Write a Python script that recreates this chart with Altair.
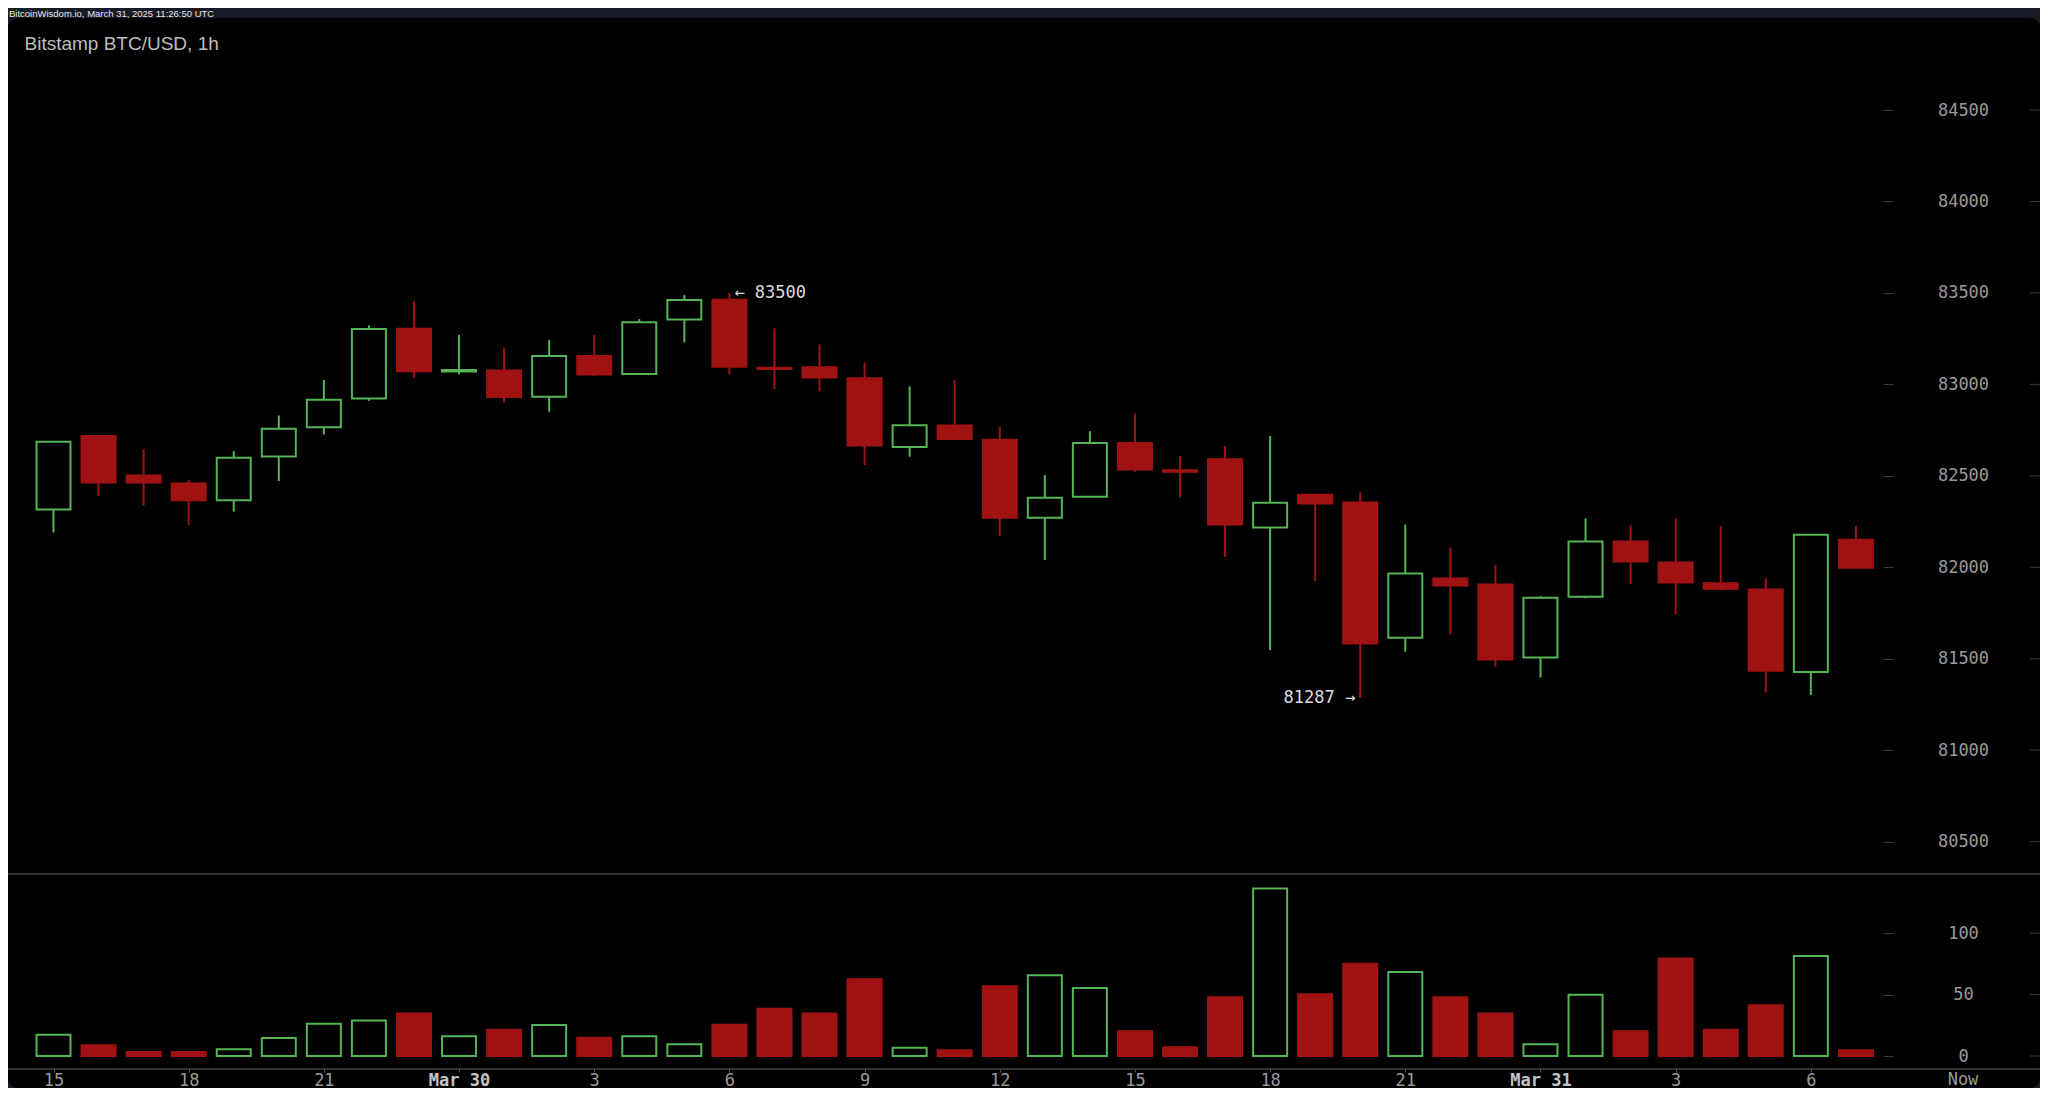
import altair as alt
import pandas as pd

# ---------------- data ----------------
start = pd.Timestamp("2025-03-29T15:00:00Z")
times = [(start + pd.Timedelta(hours=h)).strftime("%Y-%m-%dT%H:%M:%SZ") for h in range(41)]

opens = [82316, 82717, 82502, 82458, 82367, 82606, 82765, 82923, 83304, 83070,
         83076, 82932, 83155, 83056, 83355, 83463, 83091, 83093, 83033, 82657,
         82775, 82697, 82271, 82385, 82679, 82530, 82591, 82218, 82396, 82354,
         81614, 81939, 81906, 81507, 81839, 82141, 82026, 81912, 81879, 81427,
         82150]
highs = [82686, 82723, 82646, 82477, 82635, 82830, 83024, 83322, 83455, 83270,
         83200, 83242, 83270, 83357, 83488, 83500, 83306, 83218, 83120, 82989,
         83023, 82768, 82504, 82744, 82841, 82608, 82662, 82717, 82400, 82409,
         82234, 82108, 82012, 81842, 82267, 82230, 82267, 82225, 81939, 82178,
         82225]
lows = [82189, 82391, 82338, 82231, 82304, 82471, 82726, 82910, 83036, 83055,
        82901, 82850, 83045, 83056, 83229, 83055, 82974, 82963, 82559, 82604,
        82701, 82172, 82039, 82385, 82522, 82384, 82057, 81547, 81926, 81287,
        81538, 81634, 81456, 81397, 81830, 81908, 81742, 81875, 81314, 81301,
        81997]
closes = [82686, 82464, 82464, 82367, 82599, 82757, 82916, 83302, 83071, 83078,
          82931, 83155, 83054, 83339, 83461, 83096, 83084, 83038, 82666, 82776,
          82701, 82271, 82380, 82679, 82535, 82522, 82234, 82353, 82349, 81583,
          81966, 81900, 81496, 81833, 82141, 82032, 81917, 81882, 81434, 82178,
          81997]
volumes = [17.4, 8.7, 3.3, 3.3, 5.4, 14.7, 26.3, 29.0, 34.7, 16.0,
           21.4, 25.2, 14.9, 16.0, 9.5, 25.5, 38.5, 34.7, 62.4, 6.8,
           4.6, 56.7, 65.7, 55.4, 20.1, 7.1, 47.8, 136.5, 50.2, 75.2,
           68.4, 47.8, 34.7, 9.5, 49.9, 20.1, 79.3, 21.4, 41.3, 81.4,
           4.6]

price_ticks = [80500, 81000, 81500, 82000, 82500, 83000, 83500, 84000, 84500]
volume_ticks = [0, 50, 100]
x_tick_times = ["2025-03-29T15:00:00Z", "2025-03-29T18:00:00Z", "2025-03-29T21:00:00Z",
                "2025-03-30T00:00:00Z", "2025-03-30T03:00:00Z", "2025-03-30T06:00:00Z",
                "2025-03-30T09:00:00Z", "2025-03-30T12:00:00Z", "2025-03-30T15:00:00Z",
                "2025-03-30T18:00:00Z", "2025-03-30T21:00:00Z", "2025-03-31T00:00:00Z",
                "2025-03-31T03:00:00Z", "2025-03-31T06:00:00Z"]
now_label = "Now"

ann_labels = ["\u2190 83500", "81287 \u2192"]
ann_times = [times[15], times[29]]
ann_prices = [83500, 81287]
ann_side = ["left", "right"]

header_text = "BitcoinWisdom.io, March 31, 2025 11:26:50 UTC"
title_text = "Bitstamp BTC/USD, 1h"

# ---------------- styling ----------------
NAVY = "#171b26"
RED = "#a11313"
GREEN = "#55b455"
LABEL = "#9a9a9a"
LINE = "#3a3a3a"
W, H = 2032, 1070

df = pd.DataFrame({"t": times, "open": opens, "high": highs, "low": lows,
                   "close": closes, "vol": volumes})
df["dir"] = ["up" if c >= o else "down" for o, c in zip(opens, closes)]

ann = pd.DataFrame({"t": ann_times, "p": ann_prices, "label": ann_labels, "side": ann_side})
pt = pd.DataFrame({"p": price_ticks})
vt = pd.DataFrame({"v": volume_ticks})
one = pd.DataFrame({"a": [0]})

IS_DAY = "utchours(datum.value) == 0"
x_scale = alt.Scale(type="utc",
                    domain=[alt.DateTime(year=2025, month=3, date=29, hours=15, utc=True),
                            alt.DateTime(year=2025, month=3, date=31, hours=7, utc=True)],
                    range=[45.5, 1847.9], padding=0)
x_axis = alt.Axis(orient="bottom", offset=-19, domain=False, grid=False,
                  values=[alt.DateTime(year=int(s[0:4]), month=int(s[5:7]), date=int(s[8:10]),
                                       hours=int(s[11:13]), utc=True) for s in x_tick_times],
                  labelExpr="utchours(datum.value) == 0 ? utcFormat(datum.value, '%b %d') : '' + utchours(datum.value)",
                  tickSize=3, tickColor="#555555", tickWidth=1,
                  labelPadding=0, labelFont="DejaVu Sans Mono", labelFontSize=17,
                  labelColor={"condition": {"test": IS_DAY, "value": "#c4c4c4"}, "value": LABEL},
                  labelFontWeight={"condition": {"test": IS_DAY, "value": "bold"}, "value": "normal"},
                  labelOverlap=False, labelFlush=False)
X = alt.X("t:T", scale=x_scale, axis=x_axis, title=None)

p_scale = alt.Scale(domain=[80500, 84500], range=[823.6, 92], nice=False, zero=False)
p_axis = alt.Axis(orient="right", offset=-157, domain=False, grid=False, values=price_ticks,
                  tickSize=10, tickColor=LINE, labelAlign="center", labelPadding=70,
                  labelFont="DejaVu Sans Mono", labelFontSize=17, labelColor=LABEL,
                  labelOverlap=False, format="d")
v_scale = alt.Scale(domain=[0, 100], range=[1038, 915.2], nice=False, zero=False)
v_axis = alt.Axis(orient="right", offset=-157, domain=False, grid=False, values=volume_ticks,
                  tickSize=10, tickColor=LINE, labelAlign="center", labelPadding=70,
                  labelFont="DejaVu Sans Mono", labelFontSize=17, labelColor=LABEL,
                  labelOverlap=False, format="d")

stroke_scale = alt.Scale(domain=["up", "down"], range=[GREEN, RED])
fill_scale = alt.Scale(domain=["up", "down"], range=["#000000", RED])

base = alt.Chart(df)
wicks = base.mark_rule(strokeWidth=2).encode(
    x=X,
    y=alt.Y("low:Q", scale=p_scale, axis=p_axis, title=None),
    y2="high:Q",
    stroke=alt.Stroke("dir:N", scale=stroke_scale, legend=None),
)
bodies = base.mark_bar(width=34, strokeWidth=2).encode(
    x=X,
    y=alt.Y("open:Q", scale=p_scale, axis=p_axis, title=None),
    y2="close:Q",
    fill=alt.Fill("dir:N", scale=fill_scale, legend=None),
    stroke=alt.Stroke("dir:N", scale=stroke_scale, legend=None),
)
ann_left = alt.Chart(ann[ann.side == "left"]).mark_text(
    align="left", baseline="middle", dx=5, font="DejaVu Sans Mono", fontSize=17, color="#dcdcdc"
).encode(x=X, y=alt.Y("p:Q", scale=p_scale, axis=p_axis, title=None), text="label:N")
ann_right = alt.Chart(ann[ann.side == "right"]).mark_text(
    align="right", baseline="middle", dx=-5, font="DejaVu Sans Mono", fontSize=17, color="#dcdcdc"
).encode(x=X, y=alt.Y("p:Q", scale=p_scale, axis=p_axis, title=None), text="label:N")
p_dash = alt.Chart(pt).mark_rule(color=LINE, strokeWidth=1).encode(
    y=alt.Y("p:Q", scale=p_scale, axis=p_axis, title=None),
    x=alt.value(2022), x2=alt.value(2032))

price_group = alt.layer(wicks, bodies, ann_left, ann_right, p_dash)

vbars = base.mark_bar(width=34, strokeWidth=2).encode(
    x=X,
    y=alt.Y("vol:Q", scale=v_scale, axis=v_axis, title=None),
    fill=alt.Fill("dir:N", scale=fill_scale, legend=None),
    stroke=alt.Stroke("dir:N", scale=stroke_scale, legend=None),
)
v_dash = alt.Chart(vt).mark_rule(color=LINE, strokeWidth=1).encode(
    y=alt.Y("v:Q", scale=v_scale, axis=v_axis, title=None),
    x=alt.value(2022), x2=alt.value(2032))
volume_group = alt.layer(vbars, v_dash)

sep = alt.Chart(one).mark_rule(color="#444444", strokeWidth=1.5).encode(
    x=alt.value(0), x2=alt.value(W), y=alt.value(856))
xline = alt.Chart(one).mark_rule(color="#444444", strokeWidth=1.5).encode(
    x=alt.value(0), x2=alt.value(W), y=alt.value(1051))
header = alt.Chart(one).mark_text(
    text=header_text, align="left", baseline="middle", font="Liberation Sans",
    fontSize=9.5, color="#e6e6e6"
).encode(x=alt.value(1), y=alt.value(-4.5))
title = alt.Chart(one).mark_text(
    text=title_text, align="left", baseline="alphabetic", font="Liberation Sans",
    fontSize=19, color="#bdbdbd"
).encode(x=alt.value(16.5), y=alt.value(32))
now = alt.Chart(one).mark_text(
    text=now_label, align="center", baseline="top", font="DejaVu Sans Mono",
    fontSize=17, color=LABEL
).encode(x=alt.value(1955), y=alt.value(1054))

chart = alt.layer(sep, xline, price_group, volume_group, header, title, now).resolve_scale(
    y="independent"
).properties(
    width=W, height=H,
    padding={"top": 10, "left": 0, "right": 0, "bottom": 0},
    autosize=alt.AutoSizeParams(type="none"),
).configure(background=NAVY).configure_view(fill="#000000", strokeWidth=0, cornerRadius=10)

chart.save("out.html", embed_options={"renderer": "svg", "actions": False})
